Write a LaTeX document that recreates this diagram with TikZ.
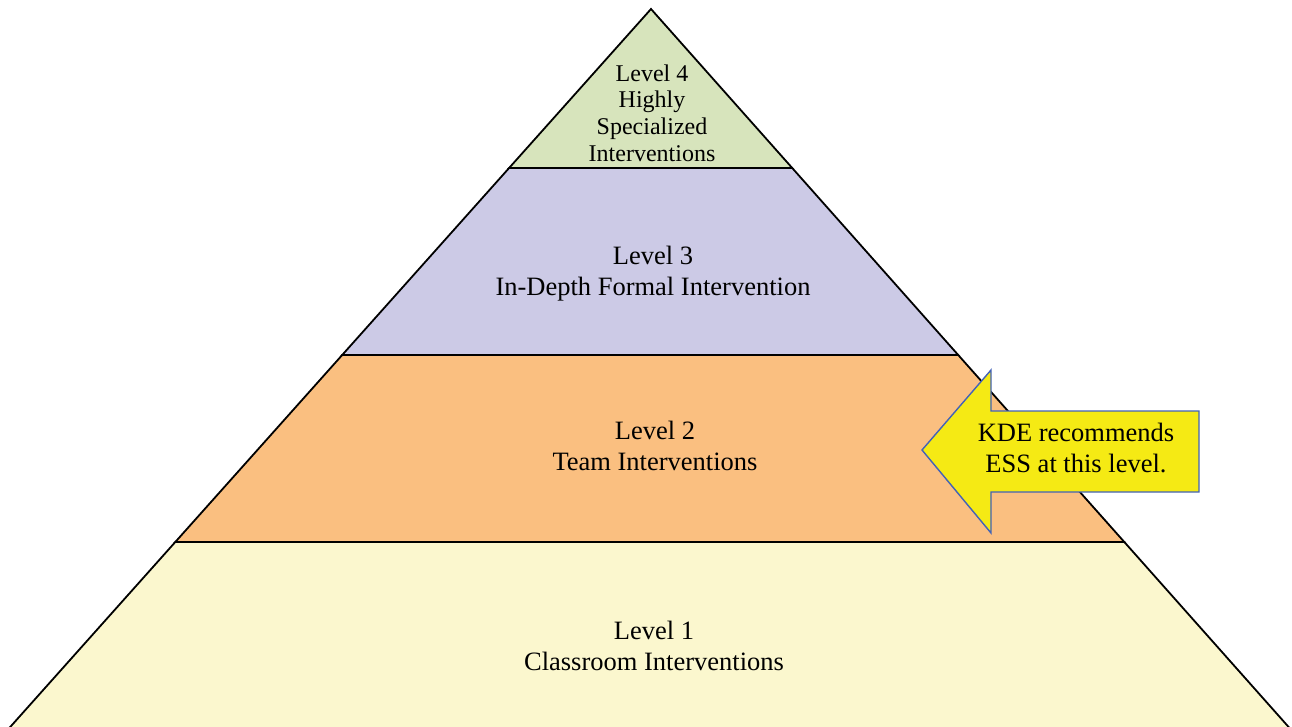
\documentclass[tikz,border=0pt]{standalone}
\usepackage{fontspec}
\setmainfont{Liberation Serif}
\definecolor{lvgreen}{HTML}{D7E4BC}
\definecolor{lvpurple}{HTML}{CCCAE6}
\definecolor{lvorange}{HTML}{FABF80}
\definecolor{lvyellow}{HTML}{FBF7CE}
\definecolor{arrowyellow}{HTML}{F5EA14}
\definecolor{arrowblue}{HTML}{4262B8}
\begin{document}
\begin{tikzpicture}[x=1pt,y=-1pt,
  band/.style={draw=black,line width=1.8pt,line join=miter},
  lvtext/.style={align=center,font=\fontsize{26.5}{31}\selectfont,inner sep=0pt},
  toptext/.style={align=center,font=\fontsize{24}{26.7}\selectfont,inner sep=0pt}]
\useasboundingbox (0,0) rectangle (1292,727);
% pyramid corner points
\coordinate (apex) at (651,9);
\coordinate (l4) at (509.1,168);
\coordinate (r4) at (792.2,168);
\coordinate (l3) at (342.2,355);
\coordinate (r3) at (958.2,355);
\coordinate (l2) at (175.3,542);
\coordinate (r2) at (1124.3,542);
\coordinate (l1) at (9.3,728);
\coordinate (r1) at (1289.5,728);
% bands
\draw[band,fill=lvyellow] (l2) -- (r2) -- (r1) -- (l1) -- cycle;
\draw[band,fill=lvorange] (l3) -- (r3) -- (r2) -- (l2) -- cycle;
\draw[band,fill=lvpurple] (l4) -- (r4) -- (r3) -- (l3) -- cycle;
\draw[band,fill=lvgreen] (apex) -- (r4) -- (l4) -- cycle;
% labels
\node[toptext] (t4) at (652,113) {Level 4\\Highly\\Specialized\\Interventions};
\node[lvtext] (t3) at (653,274) {Level 3\\In-Depth Formal Intervention};
\node[lvtext] (t2) at (655,445.5) {Level 2\\Team Interventions};
\node[lvtext] (t1) at (654,646) {Level 1\\Classroom Interventions};
% callout arrow
\draw[fill=arrowyellow,draw=arrowblue,line width=1.4pt,line join=miter]
  (922,450) -- (991,370) -- (991,411) -- (1199,411) -- (1199,492) -- (991,492) -- (991,533) -- cycle;
\node[lvtext] (kde) at (1076,447.5) {KDE recommends\\ESS at this level.};
\end{tikzpicture}
\end{document}
